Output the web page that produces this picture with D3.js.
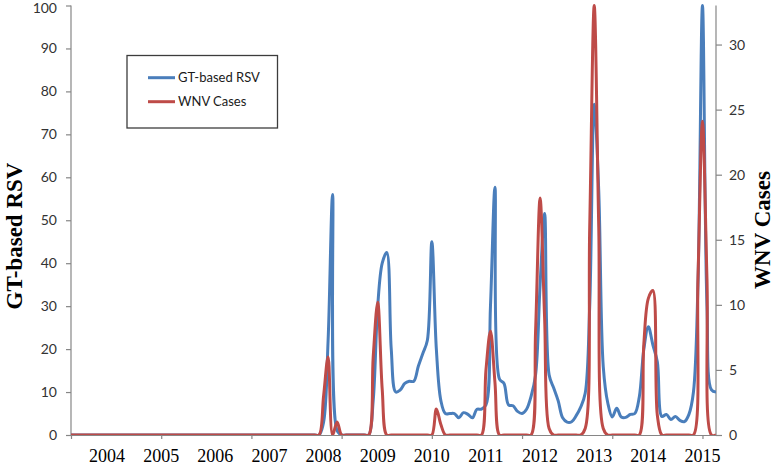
<!DOCTYPE html>
<html>
<head>
<meta charset="utf-8">
<script src="https://cdn.jsdelivr.net/npm/d3@7"></script>
<style>
  html, body { margin: 0; padding: 0; background: #fff; }
  svg { display: block; }
</style>
</head>
<body>
<svg id="chart" width="775" height="465"></svg>
<script>
// ---- data (monthly points, index 0..143) ----
const zeros48 = new Array(48).fill(0);
const gtRSV = zeros48.concat([
  0,0,0,0,0,0,0,0,3,22,56,1,
  0,0,0,0,0,0,0,8,30,40,42.5,20,
  10,10.5,12,12.5,12.5,16,19,22,45,20,8,5,
  5,5,4,5.2,4.8,4,6,6,7,30,57.7,13,
  12,7,6.8,5.5,5,6,9,14,35,51.6,14,11,
  8,4,3,3.1,4.5,6.5,9.7,30,77,57,16,7.5,
  4.2,6.2,4.2,4.1,4.8,5,8.9,20,25.2,21,17,4.3,
  4.8,3.6,4.3,3.4,3.1,4.8,10,35,100,30,10.5,10
]);
const wnvCases = zeros48.concat([
  0,0,0,0,0,0,0,0,3,6,0,1,
  0,0,0,0,0,0,0,6,10.2,3.5,0,0,
  0,0,0,0,0,0,0,0,0,2,0.8,0,
  0,0,0,0,0,0,0,0,5,8,4,0,
  0,0,0,0,0,0,0,8,18.2,9,0.5,0,
  0,0,0,0,0,0,0.5,16,33,16,0.5,0,
  0,0,0,0,0,0,0,7,10.5,11.1,1.5,0,
  0,0,0,0,0,0,0,12,24.1,12,0,0
]);
const yearLabels = ["2004","2005","2006","2007","2008","2009","2010","2011","2012","2013","2014","2015"];
const leftTicks = [0,10,20,30,40,50,60,70,80,90,100];
const rightTicks = [0,5,10,15,20,25,30];
const seriesNames = ["GT-based RSV","WNV Cases"];
const seriesColors = ["#4A7EBB","#BE4B48"];

// ---- layout ----
const L = 71, R = 716, T = 5.5, B = 435;
const svg = d3.select("#chart");
const n = gtRSV.length;
const x = d3.scaleLinear().domain([0, n - 1]).range([L, R]);
const yL = d3.scaleLinear().domain([0, 100]).range([B, T]);
const yR = d3.scaleLinear().domain([0, 33]).range([B, T]);

const axisColor = "#868686";
const tickFont = "Lato, 'Liberation Sans', sans-serif";
const serif = "'Liberation Serif', 'Times New Roman', serif";

svg.append("defs").append("clipPath").attr("id","plotclip")
  .append("rect").attr("x", L).attr("y", T - 3).attr("width", R - L).attr("height", B - T + 3);

// left axis
const gL = svg.append("g").attr("transform", `translate(${L},0)`)
  .call(d3.axisLeft(yL).tickValues(leftTicks).tickSize(5).tickPadding(9).tickSizeOuter(0));
// right axis
const gR = svg.append("g").attr("transform", `translate(${R},0)`)
  .call(d3.axisRight(yR).tickValues(rightTicks).tickSize(6).tickPadding(7).tickSizeOuter(0));
// bottom axis (ticks only)
const gB = svg.append("g").attr("transform", `translate(0,${B})`)
  .call(d3.axisBottom(x).tickValues(d3.range(0, n, 20)).tickSize(4).tickFormat("").tickSizeOuter(0));

[gL, gR, gB].forEach(g => {
  g.selectAll("path.domain").attr("stroke", axisColor).attr("stroke-width", 1.2);
  g.selectAll(".tick line").attr("stroke", axisColor).attr("stroke-width", 1.2);
  g.selectAll(".tick text").attr("fill", "#333").attr("font-family", tickFont)
    .attr("font-size", 14).attr("font-weight", 400);
});
gR.select("path.domain").attr("d", `M0,${T}V${B}`);
gL.select("path.domain").attr("d", `M0,${T}V${B}`);
// keep the top label inside the picture
gL.selectAll(".tick text").filter(d => d === 100).attr("dy", "0.5em");

// year labels
svg.append("g").selectAll("text").data(yearLabels).join("text")
  .attr("x", (d, i) => x(8 + 12 * i))
  .attr("y", 462)
  .attr("text-anchor", "middle")
  .attr("font-family", serif)
  .attr("font-size", 18)
  .attr("fill", "#000")
  .text(d => d);

// axis titles
svg.append("text")
  .attr("transform", "translate(21.5,236) rotate(-90)")
  .attr("text-anchor", "middle")
  .attr("font-family", serif)
  .attr("font-weight", "bold").attr("font-size", 23).attr("fill", "#000")
  .text("GT-based RSV");
svg.append("text")
  .attr("transform", "translate(769.5,230) rotate(-90)")
  .attr("text-anchor", "middle")
  .attr("font-family", serif)
  .attr("font-weight", "bold").attr("font-size", 23).attr("fill", "#000")
  .text("WNV Cases");

// lines
const plot = svg.append("g").attr("clip-path", "url(#plotclip)");
const lineL = d3.line().x((d, i) => x(i)).y(d => yL(d)).curve(d3.curveCatmullRom.alpha(0.5));
const lineR = d3.line().x((d, i) => x(i)).y(d => yR(d)).curve(d3.curveCatmullRom.alpha(0.5));
plot.append("path").datum(gtRSV).attr("d", lineL)
  .attr("fill", "none").attr("stroke", seriesColors[0]).attr("stroke-width", 3)
  .attr("stroke-linejoin", "round");
plot.append("path").datum(wnvCases).attr("d", lineR)
  .attr("fill", "none").attr("stroke", seriesColors[1]).attr("stroke-width", 3)
  .attr("stroke-linejoin", "round");

// legend
const lg = svg.append("g");
lg.append("rect").attr("x", 127).attr("y", 55.5).attr("width", 150.5).attr("height", 72.5)
  .attr("fill", "#fff").attr("stroke", "#3c3c3c").attr("stroke-width", 1.3);
seriesNames.forEach((name, i) => {
  const yy = 77.7 + i * 24;
  lg.append("line").attr("x1", 148).attr("x2", 175).attr("y1", yy).attr("y2", yy)
    .attr("stroke", seriesColors[i]).attr("stroke-width", 3);
  lg.append("text").attr("x", 178).attr("y", yy + 4.5)
    .attr("font-family", tickFont).attr("font-size", 13).attr("fill", "#1a1a1a")
    .text(name);
});
</script>
</body>
</html>
